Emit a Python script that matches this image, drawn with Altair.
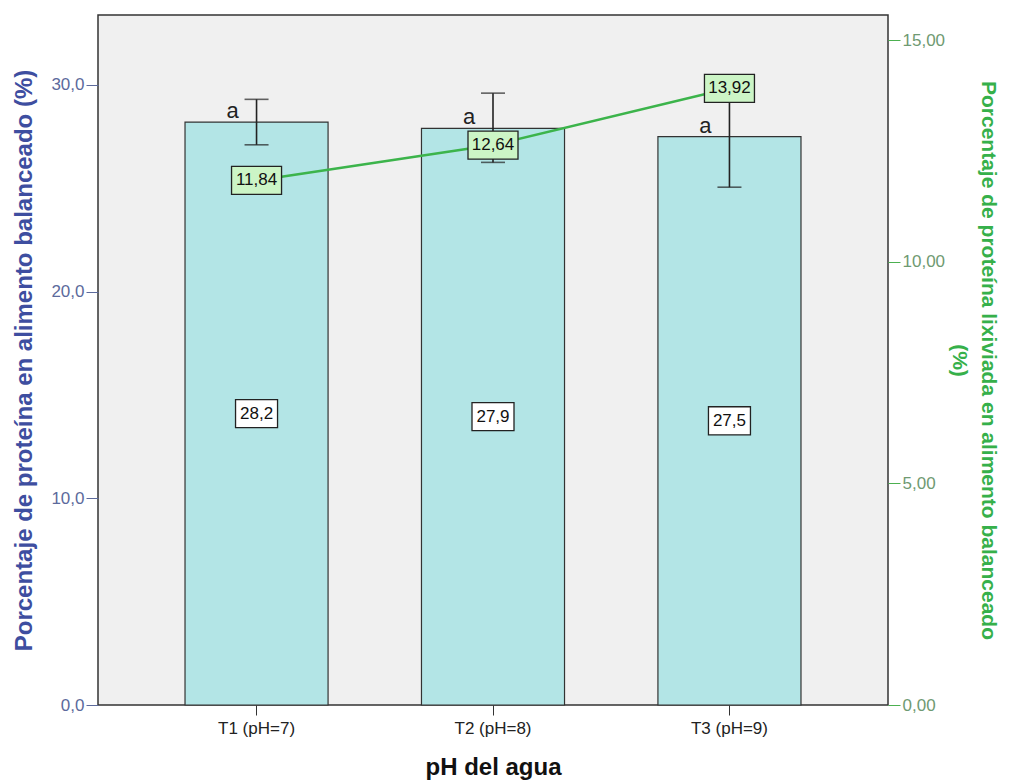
import altair as alt
import pandas as pd

categories = ["T1 (pH=7)", "T2 (pH=8)", "T3 (pH=9)"]
bar_means = [28.2, 27.9, 27.5]
err_low = [27.1, 26.25, 25.05]
err_high = [29.3, 29.6, 29.95]
letters = ["a", "a", "a"]
leach = [11.84, 12.64, 13.92]

bar_labels = [f"{v:.1f}".replace(".", ",") for v in bar_means]
leach_labels = [f"{v:.2f}".replace(".", ",") for v in leach]

df = pd.DataFrame({
    "cat": categories,
    "mean": bar_means,
    "half": [v / 2 for v in bar_means],
    "lo": err_low,
    "hi": err_high,
    "letter": letters,
    "blabel": bar_labels,
    "leach": leach,
    "llabel": leach_labels,
})

FONT = "Liberation Sans"
LEFT_DOMAIN = [0, 33.38]
RIGHT_DOMAIN = [0, 15.575]

xaxis = alt.Axis(title="pH del agua", labelAngle=0, labelFontSize=17,
                 labelColor="#222", titleFontSize=24, titleFontWeight="bold",
                 titleColor="#111", tickSize=10, tickColor="#333",
                 domain=False, labelPadding=5, titlePadding=19, labelFont=FONT,
                 titleFont=FONT)
xscale = alt.Scale(paddingInner=0.395, paddingOuter=0.368)


def X():
    return alt.X("cat:N", sort=categories, scale=xscale, axis=xaxis)


yleft_axis = alt.Axis(
    title="Porcentaje de proteína en alimento balanceado (%)",
    orient="left", values=[0, 10, 20, 30],
    labelExpr="replace(format(datum.value, '.1f'), '.', ',')",
    labelColor="#5c6a9c", labelFontSize=17, tickColor="#5c6a9c", tickSize=12,
    domain=False, grid=False, titleColor="#3e4ea0", titleFontSize=24,
    titleFontWeight="bold", titlePadding=14, labelPadding=2, labelFont=FONT,
    titleFont=FONT)

yright_axis = alt.Axis(
    title=["Porcentaje de proteína lixiviada en alimento balanceado", "(%)"],
    orient="right", values=[0, 5, 10, 15],
    labelExpr="replace(format(datum.value, '.2f'), '.', ',')",
    labelColor="#6f9a72", labelFontSize=17, tickColor="#4cb050", tickSize=12,
    domain=False, grid=False, titleColor="#36b04a", titleFontSize=21,
    titleFontWeight="bold", titlePadding=4, labelPadding=2, labelFont=FONT,
    titleFont=FONT, titleLineHeight=29)

ylscale = alt.Scale(domain=LEFT_DOMAIN, nice=False, zero=True)
yrscale = alt.Scale(domain=RIGHT_DOMAIN, nice=False, zero=True)


def YL(field):
    return alt.Y(f"{field}:Q", scale=ylscale, axis=yleft_axis)


def YR(field):
    return alt.Y(f"{field}:Q", scale=yrscale, axis=yright_axis)


base = alt.Chart(df)

bars = base.mark_bar(fill="#b3e5e6", stroke="#333333", strokeWidth=1.2).encode(
    x=X(), y=YL("mean"))

rules = base.mark_rule(color="#222", strokeWidth=1.6).encode(
    x=X(), y=YL("lo"), y2="hi:Q")

cap_lo = base.mark_tick(color="#222", size=24, thickness=1.6).encode(
    x=X(), y=YL("lo"))
cap_hi = base.mark_tick(color="#222", size=24, thickness=1.6).encode(
    x=X(), y=YL("hi"))

letter_txt = base.mark_text(font=FONT, fontSize=22, color="#222", dx=-24, dy=-4,
                            baseline="alphabetic").encode(
    x=X(), y=YL("mean"), text="letter:N")

bar_box = base.mark_point(shape="M-1,-0.667L1,-0.667L1,0.667L-1,0.667Z", size=1764,
                          filled=True, fill="white", stroke="#222", strokeWidth=1.3,
                          opacity=1).encode(
    x=X(), y=YL("half"))
bar_txt = base.mark_text(font=FONT, fontSize=17, color="#111").encode(
    x=X(), y=YL("half"), text="blabel:N")

left = alt.layer(bars, rules, cap_lo, cap_hi, letter_txt, bar_box, bar_txt)

line = base.mark_line(color="#3cb44b", strokeWidth=2.5).encode(
    x=X(), y=YR("leach"))
lbox = base.mark_point(shape="M-1,-0.56L1,-0.56L1,0.56L-1,0.56Z", size=2500,
                       filled=True, fill="#ccf5c6", stroke="#222", strokeWidth=1.3,
                       opacity=1).encode(
    x=X(), y=YR("leach"))
ltxt = base.mark_text(font=FONT, fontSize=17, color="#111").encode(
    x=X(), y=YR("leach"), text="llabel:N")

right = alt.layer(line, lbox, ltxt)

chart = alt.layer(left, right).resolve_scale(y="independent").properties(
    width=790, height=690,
    background="white",
    autosize=alt.AutoSizeParams(type="none"),
    padding={"left": 90, "top": 7, "right": 114, "bottom": 76},
).configure_view(fill="#f0f0f0", stroke="#333333", strokeWidth=1.5)

chart.save("out.html", embed_options={"renderer": "svg", "actions": False})
